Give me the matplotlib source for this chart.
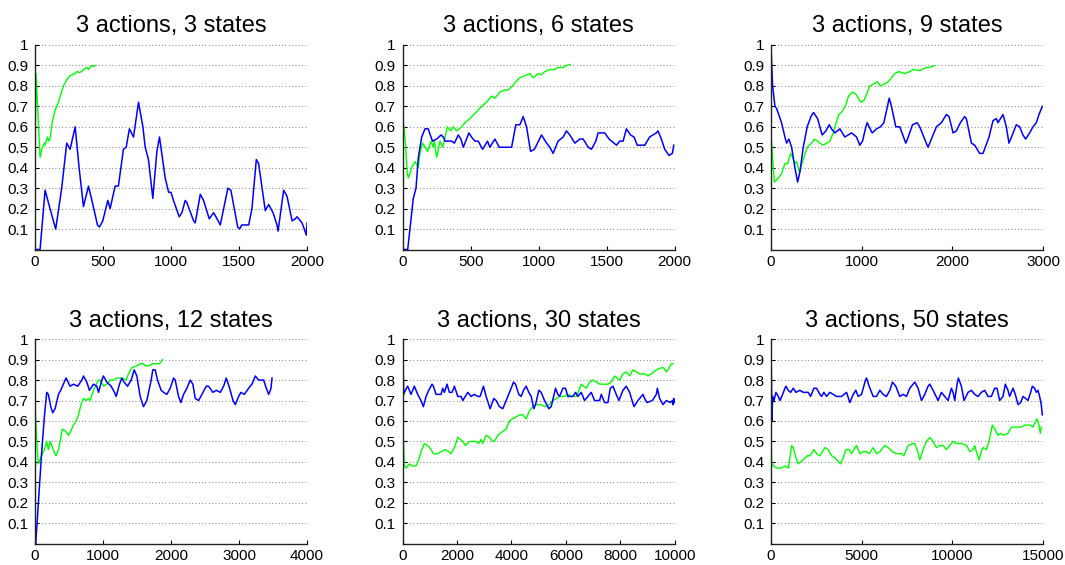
import matplotlib
matplotlib.use("Agg")
from matplotlib import pyplot as plt

plt.rcParams['font.family'] = ['Liberation Sans', 'DejaVu Sans']

titles = ["3 actions, 3 states", "3 actions, 6 states", "3 actions, 9 states",
          "3 actions, 12 states", "3 actions, 30 states", "3 actions, 50 states"]
x_limits = [2000, 2000, 3000, 4000, 10000, 15000]
x_steps = [500, 500, 1000, 1000, 2000, 5000]

# --- 3 states ---
blue1_x = [0, 37, 74, 110, 152, 196, 233, 258, 295, 324, 356, 393, 425, 459, 474, 498, 535,
           552, 589, 613, 650, 670, 694, 724, 761, 793, 810, 834, 866, 896, 915, 957, 982,
           999, 1018, 1060, 1080, 1104, 1116, 1166, 1178, 1215, 1239, 1281, 1313, 1338,
           1362, 1418, 1440, 1490, 1504, 1521, 1571, 1595, 1627, 1644, 1693, 1718, 1750,
           1779, 1787, 1828, 1853, 1890, 1914, 1926, 1951, 1963, 1980, 1995, 2000]
blue1_y = [0.0, 0.0, 0.29, 0.2, 0.1, 0.3, 0.52, 0.49, 0.6, 0.4, 0.21, 0.31, 0.22, 0.12, 0.11,
           0.14, 0.24, 0.2, 0.31, 0.31, 0.49, 0.5, 0.59, 0.55, 0.72, 0.6, 0.5, 0.44, 0.25, 0.48,
           0.55, 0.35, 0.28, 0.28, 0.24, 0.16, 0.18, 0.24, 0.23, 0.14, 0.13, 0.27, 0.24, 0.15,
           0.18, 0.15, 0.12, 0.3, 0.29, 0.11, 0.1, 0.12, 0.12, 0.2, 0.44, 0.42, 0.19, 0.22,
           0.18, 0.12, 0.09, 0.29, 0.26, 0.14, 0.15, 0.16, 0.14, 0.13, 0.1, 0.07, 0.13]
green1_x = [0, 7, 37, 49, 69, 74, 91, 103, 110, 128, 147, 172, 180, 209, 233, 258, 294, 307,
            324, 343, 356, 380, 393, 417, 429, 449]
green1_y = [0.5, 0.86, 0.45, 0.49, 0.52, 0.51, 0.55, 0.53, 0.54, 0.63, 0.68, 0.72, 0.74,
            0.8, 0.83, 0.85, 0.86, 0.87, 0.865, 0.87, 0.88, 0.89, 0.88, 0.9, 0.895, 0.9]

# --- 6 states ---
blue2_x = [0, 37, 78, 98, 115, 140, 164, 188, 208, 220, 250, 282, 299, 311, 360, 380, 409,
           428, 446, 487, 506, 531, 555, 588, 624, 641, 678, 710, 764, 801, 832, 862, 886,
           911, 940, 969, 1021, 1058, 1082, 1106, 1143, 1180, 1204, 1229, 1266, 1302, 1327,
           1364, 1388, 1420, 1437, 1486, 1518, 1572, 1596, 1621, 1645, 1675, 1701, 1725,
           1780, 1816, 1865, 1877, 1902, 1927, 1958, 1983, 1993]
blue2_y = [0.0, 0.0, 0.25, 0.3, 0.45, 0.55, 0.59, 0.59, 0.55, 0.53, 0.54, 0.56, 0.55, 0.53,
           0.53, 0.52, 0.56, 0.54, 0.5, 0.57, 0.55, 0.53, 0.53, 0.49, 0.53, 0.5, 0.54, 0.5,
           0.5, 0.5, 0.61, 0.61, 0.65, 0.6, 0.48, 0.49, 0.56, 0.52, 0.5, 0.47, 0.53, 0.55,
           0.58, 0.56, 0.52, 0.54, 0.54, 0.5, 0.49, 0.53, 0.57, 0.57, 0.54, 0.51, 0.53, 0.53,
           0.59, 0.56, 0.55, 0.51, 0.51, 0.55, 0.57, 0.58, 0.54, 0.49, 0.46, 0.47, 0.51]
green2_x = [0, 10, 22, 34, 42, 66, 83, 91, 115, 127, 147, 164, 184, 208, 225, 233, 250, 274,
            294, 306, 328, 352, 372, 397, 433, 458, 494, 539, 580, 617, 654, 678, 715, 752,
            776, 808, 832, 862, 898, 935, 960, 996, 1021, 1045, 1082, 1118, 1143, 1180, 1204,
            1229]
green2_y = [0.63, 0.6, 0.5, 0.37, 0.35, 0.4, 0.42, 0.43, 0.4, 0.47, 0.52, 0.5, 0.48, 0.53,
            0.5, 0.53, 0.45, 0.53, 0.5, 0.53, 0.6, 0.58, 0.6, 0.58, 0.6, 0.62, 0.64, 0.67, 0.7,
            0.72, 0.75, 0.74, 0.77, 0.78, 0.78, 0.8, 0.82, 0.84, 0.85, 0.86, 0.84, 0.86, 0.855,
            0.87, 0.88, 0.88, 0.89, 0.89, 0.9, 0.905]

# --- 9 states ---
blue3_x = [0, 18, 44, 62, 117, 154, 173, 198, 228, 264, 294, 320, 356, 400, 441, 470, 514,
           565, 606, 643, 668, 705, 760, 815, 889, 944, 980, 1010, 1047, 1061, 1116, 1164,
           1208, 1245, 1285, 1304, 1329, 1377, 1421, 1487, 1506, 1561, 1612, 1641, 1722,
           1733, 1788, 1825, 1880, 1935, 1964, 2009, 2045, 2089, 2137, 2155, 2211, 2247,
           2302, 2339, 2405, 2449, 2486, 2504, 2559, 2596, 2625, 2662, 2706, 2743, 2779,
           2809, 2853, 2890, 2927, 2956, 2993]
blue3_y = [1.0, 0.8, 0.7, 0.69, 0.62, 0.55, 0.52, 0.54, 0.5, 0.4, 0.33, 0.38, 0.5, 0.6, 0.65,
           0.67, 0.64, 0.56, 0.58, 0.61, 0.59, 0.57, 0.59, 0.55, 0.57, 0.55, 0.51, 0.53, 0.6,
           0.62, 0.57, 0.59, 0.6, 0.62, 0.7, 0.74, 0.7, 0.6, 0.6, 0.52, 0.54, 0.61, 0.62, 0.6,
           0.51, 0.5, 0.56, 0.6, 0.62, 0.66, 0.65, 0.57, 0.58, 0.62, 0.65, 0.64, 0.52, 0.51,
           0.47, 0.47, 0.55, 0.63, 0.64, 0.62, 0.66, 0.6, 0.52, 0.56, 0.61, 0.6, 0.56, 0.54,
           0.57, 0.6, 0.62, 0.66, 0.7]
green3_x = [0, 18, 37, 62, 99, 117, 154, 183, 217, 239, 264, 283, 312, 356, 400, 448, 477,
            514, 540, 576, 613, 650, 687, 712, 749, 778, 819, 856, 900, 936, 991, 1028, 1065,
            1091, 1135, 1175, 1208, 1256, 1292, 1329, 1366, 1410, 1476, 1531, 1568, 1641,
            1715, 1751, 1807]
green3_y = [0.57, 0.45, 0.33, 0.34, 0.36, 0.37, 0.42, 0.42, 0.47, 0.45, 0.42, 0.43, 0.38,
            0.44, 0.5, 0.52, 0.54, 0.53, 0.52, 0.51, 0.52, 0.53, 0.57, 0.61, 0.66, 0.67, 0.7,
            0.75, 0.77, 0.76, 0.72, 0.73, 0.77, 0.8, 0.81, 0.82, 0.8, 0.81, 0.82, 0.84, 0.86,
            0.87, 0.86, 0.87, 0.88, 0.875, 0.89, 0.89, 0.9]

# --- 12 states ---
blue4_x = [10, 98, 137, 172, 196, 231, 260, 295, 344, 378, 442, 457, 515, 565, 628, 687,
           712, 761, 800, 859, 908, 933, 982, 1006, 1055, 1119, 1168, 1193, 1242, 1276, 1310,
           1360, 1414, 1458, 1497, 1546, 1595, 1644, 1708, 1732, 1767, 1801, 1855, 1890,
           1939, 1988, 2037, 2061, 2110, 2145, 2184, 2233, 2282, 2321, 2356, 2405, 2454,
           2518, 2552, 2616, 2665, 2724, 2773, 2812, 2862, 2911, 2945, 2994, 3028, 3077,
           3141, 3190, 3239, 3288, 3362, 3401, 3436, 3460, 3470, 3485]
blue4_y = [0.0, 0.45, 0.62, 0.74, 0.73, 0.67, 0.64, 0.66, 0.73, 0.75, 0.8, 0.81, 0.77, 0.78,
           0.77, 0.8, 0.82, 0.79, 0.75, 0.78, 0.77, 0.74, 0.8, 0.82, 0.79, 0.77, 0.74, 0.72,
           0.78, 0.81, 0.79, 0.77, 0.8, 0.85, 0.82, 0.72, 0.67, 0.7, 0.8, 0.85, 0.85, 0.8,
           0.75, 0.74, 0.73, 0.76, 0.81, 0.8, 0.72, 0.69, 0.73, 0.76, 0.8, 0.78, 0.71, 0.7,
           0.73, 0.77, 0.77, 0.74, 0.75, 0.74, 0.77, 0.81, 0.76, 0.7, 0.68, 0.72, 0.74, 0.73,
           0.76, 0.78, 0.82, 0.8, 0.8, 0.76, 0.73, 0.75, 0.76, 0.81]
green4_x = [0, 25, 49, 83, 123, 137, 172, 196, 221, 245, 280, 309, 344, 368, 402, 451, 491,
            525, 564, 604, 638, 677, 712, 751, 785, 810, 859, 933, 957, 1006, 1055, 1104, 1153,
            1202, 1276, 1340, 1374, 1423, 1497, 1546, 1595, 1620, 1669, 1732, 1791, 1831, 1875]
green4_y = [0.68, 0.5, 0.39, 0.42, 0.45, 0.46, 0.5, 0.46, 0.5, 0.48, 0.45, 0.43, 0.46, 0.5,
            0.56, 0.55, 0.53, 0.55, 0.58, 0.6, 0.63, 0.68, 0.71, 0.7, 0.71, 0.7, 0.75, 0.8,
            0.8, 0.77, 0.78, 0.8, 0.8, 0.81, 0.81, 0.8, 0.83, 0.86, 0.87, 0.88, 0.88, 0.87,
            0.87, 0.88, 0.88, 0.88, 0.9]

# --- 30 states ---
blue5_x = [0, 37, 98, 184, 307, 429, 552, 675, 761, 859, 957, 1080, 1129, 1227, 1411, 1472,
           1534, 1632, 1718, 1816, 1902, 2025, 2147, 2209, 2393, 2515, 2638, 2761, 2847, 2969,
           3068, 3215, 3350, 3436, 3558, 3681, 3865, 3988, 4074, 4147, 4270, 4356, 4442, 4540,
           4638, 4724, 4822, 4883, 5006, 5092, 5215, 5374, 5460, 5620, 5706, 5767, 5890, 5988,
           6074, 6258, 6356, 6442, 6564, 6687, 6810, 6932, 7055, 7239, 7301, 7424, 7546, 7632,
           7730, 7853, 7951, 8098, 8221, 8344, 8503, 8650, 8834, 8896, 8981, 9178, 9325, 9362,
           9448, 9571, 9693, 9841, 9914, 9939, 9963, 10000]
blue5_y = [1.0, 0.73, 0.75, 0.77, 0.73, 0.77, 0.73, 0.7, 0.67, 0.72, 0.75, 0.78, 0.77, 0.73,
           0.73, 0.76, 0.74, 0.78, 0.74, 0.74, 0.77, 0.72, 0.72, 0.7, 0.74, 0.72, 0.73, 0.72,
           0.72, 0.77, 0.72, 0.66, 0.71, 0.7, 0.67, 0.66, 0.72, 0.76, 0.79, 0.78, 0.73, 0.72,
           0.75, 0.77, 0.74, 0.72, 0.66, 0.68, 0.75, 0.74, 0.7, 0.66, 0.67, 0.76, 0.73, 0.72,
           0.76, 0.76, 0.72, 0.72, 0.74, 0.72, 0.74, 0.7, 0.72, 0.74, 0.7, 0.7, 0.73, 0.69,
           0.69, 0.76, 0.77, 0.73, 0.7, 0.75, 0.77, 0.74, 0.67, 0.7, 0.73, 0.71, 0.69, 0.7,
           0.73, 0.76, 0.71, 0.68, 0.7, 0.69, 0.7, 0.68, 0.71, 0.69]
green5_x = [0, 61, 123, 245, 368, 491, 613, 675, 797, 920, 1043, 1129, 1288, 1411, 1571, 1693,
            1779, 1902, 2025, 2123, 2209, 2307, 2454, 2577, 2699, 2785, 2884, 2945, 3068, 3190,
            3313, 3374, 3497, 3681, 3804, 3927, 4025, 4172, 4294, 4417, 4540, 4663, 4785, 4908,
            5092, 5215, 5399, 5522, 5644, 5767, 5951, 6074, 6258, 6380, 6479, 6564, 6650, 6748,
            6871, 6994, 7117, 7239, 7423, 7546, 7669, 7792, 7877, 7975, 8098, 8221, 8344, 8466,
            8589, 8712, 8896, 9018, 9141, 9325, 9509, 9595, 9693, 9755, 9877, 9939]
green5_y = [0.6, 0.38, 0.37, 0.39, 0.38, 0.38, 0.42, 0.45, 0.49, 0.48, 0.46, 0.44, 0.44,
            0.45, 0.46, 0.45, 0.44, 0.47, 0.52, 0.51, 0.5, 0.48, 0.5, 0.5, 0.5, 0.49, 0.51,
            0.49, 0.53, 0.52, 0.5, 0.5, 0.53, 0.55, 0.56, 0.6, 0.61, 0.62, 0.63, 0.63, 0.61,
            0.65, 0.67, 0.68, 0.68, 0.67, 0.68, 0.7, 0.71, 0.72, 0.72, 0.73, 0.72, 0.72, 0.75,
            0.78, 0.77, 0.76, 0.79, 0.8, 0.79, 0.78, 0.78, 0.78, 0.79, 0.82, 0.81, 0.8, 0.83,
            0.84, 0.82, 0.85, 0.84, 0.83, 0.83, 0.82, 0.83, 0.85, 0.86, 0.86, 0.84, 0.85, 0.88,
            0.88]

# --- 50 states ---
blue6_x = [0, 55, 92, 165, 275, 404, 496, 643, 771, 826, 955, 1083, 1230, 1377, 1597, 1781,
           2056, 2184, 2368, 2515, 2699, 2791, 2919, 3066, 3250, 3433, 3617, 3892, 4168, 4351,
           4535, 4682, 4810, 4994, 5214, 5269, 5416, 5637, 5820, 6004, 6187, 6371, 6555, 6701,
           6885, 7105, 7289, 7472, 7656, 7931, 8115, 8299, 8482, 8666, 8758, 8941, 9217, 9400,
           9584, 9768, 9951, 10043, 10134, 10263, 10336, 10502, 10648, 10869, 11053, 11236,
           11420, 11604, 11787, 11971, 12154, 12338, 12466, 12613, 12797, 12925, 13072, 13164,
           13348, 13476, 13623, 13770, 13899, 14046, 14174, 14321, 14413, 14541, 14633, 14725,
           14816, 14908, 14963]
blue6_y = [1.0, 0.6, 0.72, 0.7, 0.74, 0.72, 0.7, 0.73, 0.76, 0.77, 0.75, 0.74, 0.76, 0.74,
           0.75, 0.74, 0.74, 0.72, 0.76, 0.76, 0.73, 0.72, 0.74, 0.72, 0.74, 0.73, 0.72, 0.72,
           0.74, 0.69, 0.73, 0.75, 0.72, 0.73, 0.8, 0.81, 0.77, 0.72, 0.72, 0.75, 0.73, 0.72,
           0.75, 0.79, 0.77, 0.72, 0.73, 0.72, 0.76, 0.79, 0.76, 0.7, 0.73, 0.77, 0.78, 0.75,
           0.7, 0.74, 0.72, 0.7, 0.76, 0.74, 0.7, 0.78, 0.81, 0.77, 0.7, 0.74, 0.75, 0.73,
           0.72, 0.74, 0.75, 0.72, 0.72, 0.76, 0.76, 0.7, 0.72, 0.78, 0.75, 0.72, 0.76, 0.73,
           0.68, 0.69, 0.72, 0.71, 0.7, 0.74, 0.77, 0.76, 0.74, 0.75, 0.72, 0.68, 0.63]
green6_x = [0, 37, 128, 312, 588, 771, 955, 1046, 1138, 1230, 1377, 1506, 1634, 1781, 2001,
            2148, 2368, 2515, 2699, 2974, 3158, 3341, 3525, 3837, 3984, 4131, 4315, 4443, 4627,
            4718, 4902, 5086, 5269, 5416, 5637, 5820, 6004, 6279, 6463, 6701, 6922, 7197, 7325,
            7564, 7840, 7931, 8060, 8207, 8390, 8574, 8758, 8941, 9125, 9309, 9492, 9676, 9859,
            10043, 10226, 10510, 10786, 10970, 11153, 11236, 11328, 11475, 11604, 11695, 11879,
            12026, 12209, 12338, 12522, 12650, 12797, 13072, 13256, 13532, 13807, 13991, 14266,
            14450, 14596, 14670, 14780, 14853, 14908]
green6_y = [0.56, 0.4, 0.38, 0.37, 0.37, 0.38, 0.37, 0.42, 0.48, 0.47, 0.42, 0.39, 0.4, 0.41,
            0.43, 0.43, 0.46, 0.44, 0.43, 0.47, 0.46, 0.43, 0.42, 0.39, 0.42, 0.46, 0.46, 0.44,
            0.47, 0.48, 0.44, 0.45, 0.45, 0.44, 0.47, 0.44, 0.45, 0.48, 0.47, 0.45, 0.44, 0.44,
            0.43, 0.48, 0.49, 0.49, 0.46, 0.41, 0.46, 0.5, 0.52, 0.5, 0.47, 0.48, 0.48, 0.46,
            0.48, 0.5, 0.49, 0.49, 0.48, 0.45, 0.46, 0.48, 0.45, 0.41, 0.45, 0.47, 0.46, 0.5,
            0.58, 0.56, 0.53, 0.54, 0.53, 0.54, 0.57, 0.57, 0.57, 0.58, 0.58, 0.57, 0.6, 0.61,
            0.58, 0.54, 0.57]

blue = [(blue1_x, blue1_y), (blue2_x, blue2_y), (blue3_x, blue3_y),
        (blue4_x, blue4_y), (blue5_x, blue5_y), (blue6_x, blue6_y)]
green = [(green1_x, green1_y), (green2_x, green2_y), (green3_x, green3_y),
         (green4_x, green4_y), (green5_x, green5_y), (green6_x, green6_y)]

fig = plt.figure(figsize=(10.65, 5.65), dpi=100)

lefts = [0.0329, 0.3781, 0.7239]
bottoms = [0.5584, 0.0377]
w, h = 0.2554, 0.362

for i in range(6):
    ax = fig.add_axes([lefts[i % 3], bottoms[i // 3], w, h])
    gx, gy = green[i]
    bx, by = blue[i]
    ax.plot(gx, gy, color=(0, 1, 0), lw=1.0)
    ax.plot(bx, by, color=(0, 0, 1), lw=1.1)
    ax.set_xlim(0, x_limits[i])
    ax.set_ylim(0, 1)
    ax.set_xticks(range(0, x_limits[i] + 1, x_steps[i]))
    ax.set_yticks([0.1 * k for k in range(1, 11)])
    ax.set_yticklabels(["0.1", "0.2", "0.3", "0.4", "0.5", "0.6", "0.7", "0.8", "0.9", "1"])
    ax.yaxis.grid(True, linestyle=(0, (1, 3)), color='#555555', lw=0.6)
    ax.set_axisbelow(True)
    for side in ('top', 'right'):
        ax.spines[side].set_visible(False)
    for side in ('left', 'bottom'):
        ax.spines[side].set_color('#222222')
        ax.spines[side].set_linewidth(1.0)
    ax.tick_params(direction='in', length=3, labelsize=11)
    ax.tick_params(axis='y', pad=5)
    ax.tick_params(axis='x', pad=4)
    ax.set_title(titles[i], fontsize=17, pad=9)

fig.savefig("out.png", dpi=100)
